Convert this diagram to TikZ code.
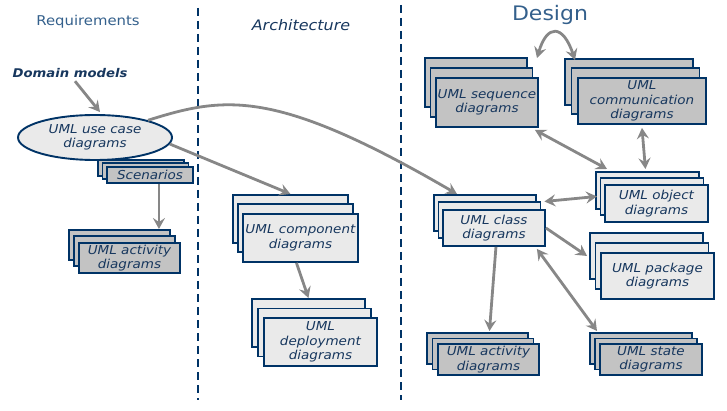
\documentclass[tikz,border=0pt]{standalone}
\usepackage{fontspec}
\setmainfont{DejaVu Sans}
\newfontfamily\hand{DejaVu Sans}[FakeStretch=1.1]
\usetikzlibrary{arrows.meta,calc,shapes.geometric}
\definecolor{navy}{RGB}{0,51,102}
\definecolor{txtblue}{RGB}{23,55,94}
\definecolor{headblue}{RGB}{52,96,140}
\definecolor{lgray}{RGB}{234,234,234}
\definecolor{dgray}{RGB}{195,195,195}
\definecolor{arrgray}{RGB}{135,135,135}
\tikzset{
  box/.style={draw=navy, line width=1.9pt, anchor=north west, inner sep=0pt,
    font=\hand\itshape\fontsize{12.3}{14.5}\selectfont, text=txtblue, align=center},
  arr/.style={draw=arrgray, line width=2.8pt, -{Stealth[length=11pt,width=12pt,inset=4pt]}},
  dbl/.style={draw=arrgray, line width=2.8pt, {Stealth[length=11pt,width=12pt,inset=4pt]}-{Stealth[length=11pt,width=12pt,inset=4pt]}},
  divider/.style={draw=navy, line width=2.2pt, dash pattern=on 8pt off 5pt},
}
\newcommand\mkstack[9]{%
  \node[box,fill=#8,minimum width=#4pt,minimum height=#5pt] (#1-2) at ({#2-2*#6},{#3-2*#7}) {};
  \node[box,fill=#8,minimum width=#4pt,minimum height=#5pt] (#1-1) at ({#2-#6},{#3-#7}) {};
  \node[box,fill=#8,minimum width=#4pt,minimum height=#5pt] (#1) at (#2,#3) {#9};
}
\begin{document}
\begin{tikzpicture}[x=1pt,y=-1pt]
\useasboundingbox (0,0) rectangle (727,411);
% dividers
\draw[divider] (198,8) -- (198,400);
\draw[divider] (401,5) -- (401,400);
% headings
\node[font=\hand\fontsize{13.5}{16}\selectfont, text=headblue] (hreq) at (88,22) {Requirements};
\node[font=\hand\itshape\fontsize{14.5}{16}\selectfont, text=txtblue] (harch) at (301,25) {Architecture};
\node[font=\hand\fontsize{20}{22}\selectfont, text=headblue] (hdes) at (550,15) {Design};
\node[font=\hand\bfseries\itshape\fontsize{12}{14}\selectfont, text=txtblue] (dm) at (70,73) {Domain models};
% use case ellipse
\node[ellipse, draw=navy, line width=1.9pt, fill=lgray, minimum width=154pt, minimum height=45pt,
  inner sep=0pt, font=\hand\itshape\fontsize{12.3}{14.5}\selectfont, text=txtblue, align=center]
  (uc) at (95,137.5) {UML use case\\diagrams};
% stacks
\mkstack{scen}{106}{166}{86}{16}{4.5}{3.5}{dgray}{Scenarios}
\mkstack{ract}{78}{242}{101}{30}{5}{6.5}{dgray}{UML activity\\diagrams}
\mkstack{comp}{242}{213}{115}{48}{5}{9.5}{lgray}{UML component\\diagrams}
\mkstack{depl}{263}{317}{113}{48}{6}{9.5}{lgray}{UML\\deployment\\diagrams}
\mkstack{seq}{435}{77}{102}{49}{5.5}{10}{dgray}{UML sequence\\diagrams}
\mkstack{comm}{577}{77}{128}{46}{6.5}{9.5}{dgray}{UML\\communication\\diagrams}
\mkstack{obj}{604}{184}{103}{37}{4.5}{6.5}{lgray}{UML object\\diagrams}
\mkstack{cls}{442}{209}{102}{36}{4.5}{7.5}{lgray}{UML class\\diagrams}
\mkstack{pkg}{600}{252}{113}{46}{5.5}{10}{lgray}{UML package\\diagrams}
\mkstack{dact}{437}{343}{101}{31}{5.5}{5.5}{dgray}{UML activity\\diagrams}
\mkstack{state}{599}{343}{102}{31}{5}{5.5}{dgray}{UML state\\diagrams}
% connectors
\draw[arr] ([xshift=5pt]dm.south) -- ([xshift=5pt,yshift=2pt]uc.north);
\draw[arr] ([xshift=9pt]scen.south) -- ([xshift=9pt]scen.south |- ract-2.north);
\draw[arr] (uc.-5) -- (comp-2.north);
\draw[arr] (uc.18) .. controls (225,96) and (275,88) .. ([xshift=-28pt]cls-2.north);
\draw[arr] ([xshift=-4pt]comp.south) -- (depl-2.north);
\draw[dbl] ([xshift=-4pt,yshift=-2pt]seq.south east) -- ([xshift=12pt,yshift=2pt]obj-2.north west);
\draw[dbl] ([yshift=-3pt]comm.south) -- ([xshift=-2pt,yshift=2pt]obj-2.north);
\draw[dbl] ([xshift=3pt]cls-1.north east) -- ([xshift=2pt,yshift=-6pt]obj-2.west);
\draw[arr] (cls.east) -- ([xshift=-2pt]pkg-2.west);
\draw[dbl] ([xshift=-9pt,yshift=-2pt]cls.south east) -- ([xshift=8pt,yshift=1pt]state-2.north west);
\draw[arr] ([xshift=2pt]cls.south) -- ([xshift=12pt,yshift=1pt]dact-2.north);
\coordinate (d1) at (537,58);
\coordinate (d2) at (575,60);
\draw[dbl] (d1) .. controls (547,24) and (563,24) .. (d2);
\end{tikzpicture}
\end{document}
